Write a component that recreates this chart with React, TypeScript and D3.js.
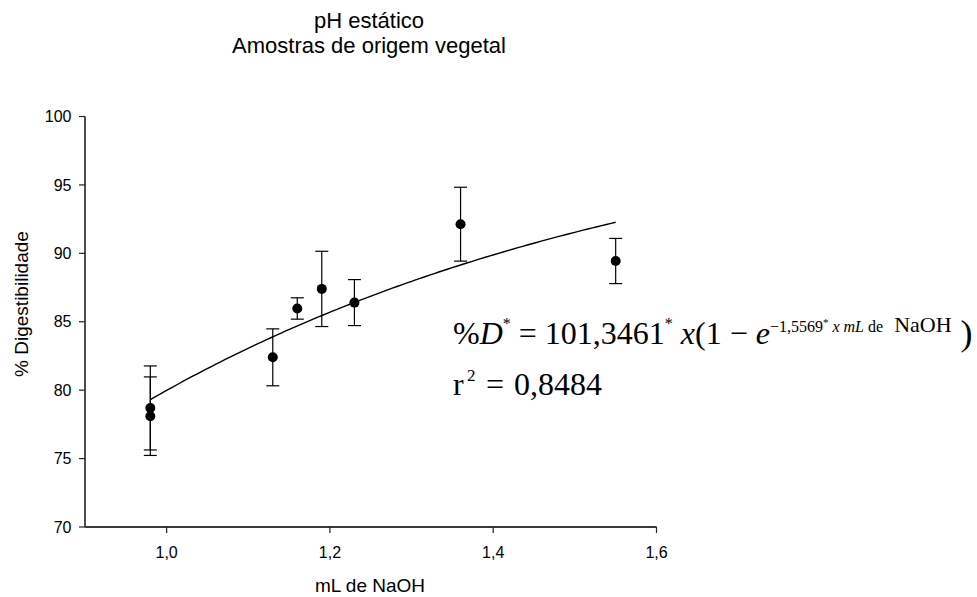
import React from "react";
import * as d3 from "d3";

const xValues = [0.98, 0.98, 1.13, 1.16, 1.19, 1.23, 1.36, 1.55];
const yValues = [78.7, 78.1, 82.4, 85.97, 87.4, 86.4, 92.13, 89.44];
const yErrors = [3.07, 2.87, 2.08, 0.78, 2.75, 1.68, 2.7, 1.65];
const xTicks = [1.0, 1.2, 1.4, 1.6];
const yTicks = [70, 75, 80, 85, 90, 95, 100];
const titleLines = ["pH estático", "Amostras de origem vegetal"];
const fitA = 101.3461;
const fitB = 1.5569;
const fitRange = [0.98, 1.55];

const W = 977;
const H = 597;
const sans = "'Liberation Sans', Arial, sans-serif";
const serif = "'Liberation Serif', 'Times New Roman', serif";

export default function App() {
  const x = d3.scaleLinear().domain([0.9, 1.6]).range([85, 656.5]);
  const y = d3.scaleLinear().domain([70, 100]).range([527, 116.5]);
  const fmt = (v: number) => v.toFixed(1).replace(".", ",");

  const curveX = d3.range(0, 101).map((i) => fitRange[0] + ((fitRange[1] - fitRange[0]) * i) / 100);
  const line = d3
    .line<number>()
    .x((d) => x(d))
    .y((d) => y(fitA * (1 - Math.exp(-fitB * d))));

  const cap = 6.5;
  const b1 = 344;
  const b2 = 395;

  return (
    <svg width={W} height={H} style={{ position: "absolute", left: 0, top: 0, background: "#fff" }}>
      {/* title */}
      {titleLines.map((t, i) => (
        <text key={t} x={369} y={28 + i * 25} textAnchor="middle" fontFamily={sans} fontSize={22}>
          {t}
        </text>
      ))}

      {/* axes */}
      <line x1={x(0.9)} x2={x(0.9)} y1={y(100)} y2={y(70)} stroke="#3a3a3a" strokeWidth={1.8} />
      <line x1={x(0.9)} x2={x(1.6)} y1={y(70)} y2={y(70)} stroke="#3a3a3a" strokeWidth={1.8} />
      {yTicks.map((t) => (
        <g key={"y" + t}>
          <line x1={x(0.9) - 6} x2={x(0.9)} y1={y(t)} y2={y(t)} stroke="#222" strokeWidth={1.2} />
          <text x={x(0.9) - 13.5} y={y(t) + 5.6} textAnchor="end" fontFamily={sans} fontSize={16}>
            {t}
          </text>
        </g>
      ))}
      {xTicks.map((t) => (
        <g key={"x" + t}>
          <line x1={x(t)} x2={x(t)} y1={y(70)} y2={y(70) + 6} stroke="#222" strokeWidth={1.2} />
          <text x={x(t)} y={558} textAnchor="middle" fontFamily={sans} fontSize={16}>
            {fmt(t)}
          </text>
        </g>
      ))}
      <text x={370} y={592} textAnchor="middle" fontFamily={sans} fontSize={19}>
        mL de NaOH
      </text>
      <text transform={`translate(28,304) rotate(-90)`} textAnchor="middle" fontFamily={sans} fontSize={19}>
        % Digestibilidade
      </text>

      {/* fit curve */}
      <path d={line(curveX) || ""} fill="none" stroke="#000" strokeWidth={1.4} />

      {/* error bars and points */}
      {xValues.map((xv, i) => {
        const cx = x(xv);
        const top = y(yValues[i] + yErrors[i]);
        const bot = y(yValues[i] - yErrors[i]);
        return (
          <g key={"p" + i}>
            <line x1={cx} x2={cx} y1={top} y2={bot} stroke="#000" strokeWidth={1.2} />
            <line x1={cx - cap} x2={cx + cap} y1={top} y2={top} stroke="#000" strokeWidth={1.2} />
            <line x1={cx - cap} x2={cx + cap} y1={bot} y2={bot} stroke="#000" strokeWidth={1.2} />
            <circle cx={cx} cy={y(yValues[i])} r={5} fill="#000" />
          </g>
        );
      })}

      {/* equation */}
      <text x={453} y={b1} fontFamily={serif} fontSize={32} style={{ whiteSpace: "pre" }}>
        <tspan>%</tspan>
        <tspan fontStyle="italic">D</tspan>
        <tspan fontSize={16} dy={-15}>*</tspan>
        <tspan dy={15}> = 101,3461</tspan>
        <tspan fontSize={16} dy={-15}>*</tspan>
        <tspan dy={15} fontStyle="italic"> x</tspan>
        <tspan>(1 − </tspan>
        <tspan fontStyle="italic">e</tspan>
        <tspan fontSize={16} dy={-12}>−1,5569</tspan>
        <tspan fontSize={11} dy={-6}>*</tspan>
        <tspan fontSize={16} dy={6} fontStyle="italic"> x mL</tspan>
        <tspan fontSize={16}> de</tspan>
        <tspan fontSize={22}>  NaOH</tspan>
        <tspan fontSize={36} dy={13}> )</tspan>
      </text>
      <text fontFamily={serif} fontSize={32}>
        <tspan x={453} y={b2}>r</tspan>
        <tspan x={467} y={b2 - 14} fontSize={17}>2</tspan>
        <tspan x={486} y={b2}>=</tspan>
        <tspan x={514} y={b2}>0,8484</tspan>
      </text>
    </svg>
  );
}
